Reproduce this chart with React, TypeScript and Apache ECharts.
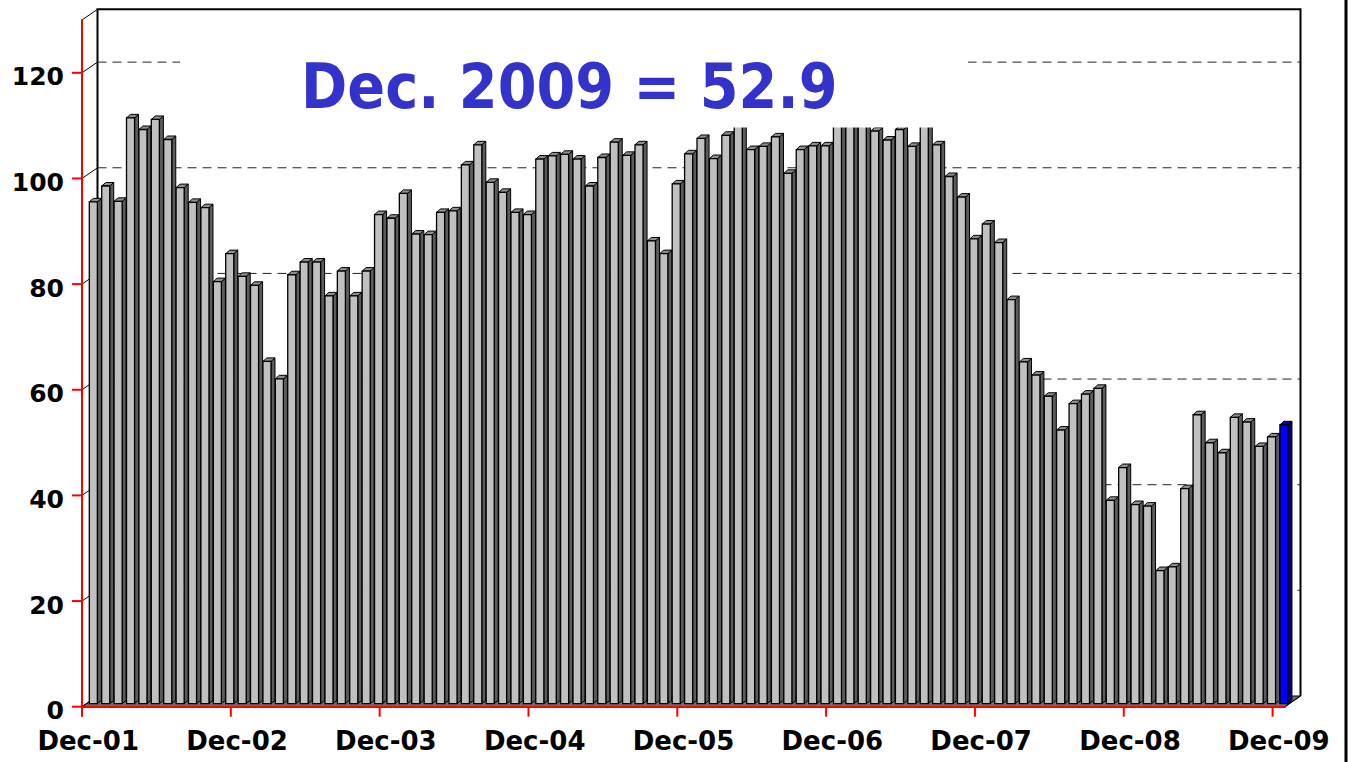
import { useEffect, useRef } from "react";
import * as echarts from "echarts";

// ---------- data ----------
const MONTH_NAMES = ["Jan", "Feb", "Mar", "Apr", "May", "Jun", "Jul", "Aug", "Sep", "Oct", "Nov", "Dec"];
const YEAR_LABELS = ["01", "02", "03", "04", "05", "06", "07", "08", "09", "10"];

const VALUES = [
  95.1, 98.1, 95.2, 111.0, 108.8, 110.7, 106.9, 97.8, 95.0, 94.0, 80.0, 85.3,
  81.0, 79.3, 64.9, 61.6, 81.3, 83.7, 83.7, 77.3, 82.0, 77.3, 82.0, 92.7,
  92.0, 96.7, 89.0, 88.9, 93.1, 93.4, 102.1, 105.9, 98.8, 96.9, 93.1, 92.7,
  103.2, 103.8, 104.1, 103.2, 98.1, 103.5, 106.4, 103.9, 105.9, 87.7, 85.3, 98.5,
  104.2, 107.1, 103.3, 107.7, 111.0, 105.0, 105.6, 107.4, 100.5, 105.0, 105.7, 105.7,
  112.0, 113.0, 112.0, 108.5, 106.8, 108.8, 105.6, 111.0, 105.9, 99.9, 96.0, 88.1,
  90.9, 87.4, 76.6, 64.8, 62.3, 58.3, 51.9, 56.9, 58.7, 59.8, 38.6, 44.8,
  37.8, 37.5, 25.3, 26.0, 40.8, 54.8, 49.5, 47.6, 54.3, 53.4, 48.8, 50.6,
  52.9,
];

// Dec-01 .. Dec-09 monthly categories
const CATEGORIES = VALUES.map((_, i) => {
  const m = (11 + i) % 12;
  const y = Math.floor((11 + i) / 12);
  return `${MONTH_NAMES[m]}-${YEAR_LABELS[y]}`;
});

const Y_TICKS = [0, 20, 40, 60, 80, 100, 120];
const TITLE_TEXT = "Dec. 2009 = 52.9";

// ---------- layout ----------
const GRID_LEFT = 82;
const GRID_TOP = 20;
const GRID_W = 1203;
const GRID_H = 686.7;
const Y_MAX = 130;
const DEPTH_X = 15.5;
const DEPTH_Y = 10.7;
const FONT = "DejaVu Sans";
const RED = "#ff0000";

export default function App() {
  const ref = useRef<HTMLDivElement>(null);

  useEffect(() => {
    if (!ref.current) return;
    const chart = echarts.init(ref.current, null, { renderer: "svg" });
    const last = VALUES.length - 1;

    const baseOption: any = {
      animation: false,
      backgroundColor: "#fff",
      textStyle: { fontFamily: FONT },
      grid: { left: GRID_LEFT, top: GRID_TOP, width: GRID_W, height: GRID_H, containLabel: false },
      xAxis: {
        type: "category",
        data: CATEGORIES,
        boundaryGap: true,
        z: 10,
        axisLine: { show: true, lineStyle: { color: RED, width: 2 } },
        axisTick: { show: false },
        axisLabel: {
          interval: (i: number) => i % 12 === 0,
          color: "#000",
          fontFamily: FONT,
          fontWeight: "bold",
          fontSize: 26,
          margin: 21,
        },
        splitLine: { show: false },
      },
      yAxis: {
        type: "value",
        min: 0,
        max: Y_MAX,
        interval: 20,
        z: 10,
        axisLine: { show: true, lineStyle: { color: RED, width: 2 } },
        axisTick: { show: false },
        axisLabel: { show: false },
        splitLine: { show: false },
      },
      series: [
        {
          type: "custom",
          z: 5,
          data: VALUES.map((v, i) => [i, v]),
          encode: { x: 0, y: 1 },
          renderItem: (params: any, api: any) => {
            const i = api.value(0);
            const v = api.value(1);
            const base = api.coord([i, 0]);
            const topP = api.coord([i, v]);
            const bw = api.size([1, 0])[0];
            const x0 = base[0] - bw / 2 + 7.3;
            const w = bw * 0.65;
            const yb = base[1] - 3;
            const yt = topP[1] - 2.5;
            const dx = 4;
            const dy = 3.5;
            const isLast = params.dataIndex === last;
            const front = isLast ? "#0000ff" : "#c0c0c0";
            const side = isLast ? "#000080" : "#5c5c5c";
            const top = isLast ? "#0000b0" : "#8e8e8e";
            return {
              type: "group",
              children: [
                {
                  type: "polygon",
                  shape: { points: [[x0 + w, yb], [x0 + w + dx, yb - dy], [x0 + w + dx, yt - dy], [x0 + w, yt]] },
                  style: { fill: side, stroke: "#000", lineWidth: 1 },
                },
                {
                  type: "polygon",
                  shape: { points: [[x0, yt], [x0 + dx, yt - dy], [x0 + w + dx, yt - dy], [x0 + w, yt]] },
                  style: { fill: top, stroke: "#000", lineWidth: 1 },
                },
                {
                  type: "rect",
                  shape: { x: x0, y: yt, width: w, height: yb - yt },
                  style: { fill: front, stroke: "#000", lineWidth: 1.3 },
                },
              ],
            };
          },
        },
      ],
    };
    chart.setOption(baseOption);

    // positions from the library's own scales
    const yPix = (v: number) => chart.convertToPixel({ yAxisIndex: 0 }, v) as number;
    const bandW = GRID_W / VALUES.length;
    const xStart = (i: number) => (chart.convertToPixel({ xAxisIndex: 0 }, i) as number) - bandW / 2;

    const frontB = yPix(0);
    const frontT = yPix(Y_MAX);
    const frontL = xStart(0);
    const frontR = xStart(last) + bandW;
    const wallL = frontL + DEPTH_X;
    const wallR = frontR + DEPTH_X;
    const wallT = frontT - DEPTH_Y;
    const wallB = frontB - DEPTH_Y;

    const graphics: any[] = [];
    // floor
    graphics.push({
      type: "polygon",
      z: 1,
      shape: { points: [[frontL, frontB], [frontR, frontB], [wallR, wallB], [wallL, wallB]] },
      style: { fill: "#6e6e6e", stroke: "#000", lineWidth: 1 },
    });
    // back wall frame
    graphics.push({
      type: "polyline",
      z: 1,
      shape: { points: [[wallL, wallB], [wallL, wallT], [wallR, wallT], [wallR, wallB]] },
      style: { fill: null, stroke: "#000", lineWidth: 2 },
    });
    // gridlines on back wall
    Y_TICKS.filter((v) => v > 0).forEach((v) => {
      const y = yPix(v) - DEPTH_Y;
      graphics.push({
        type: "line",
        z: 1,
        shape: { x1: wallL, y1: y, x2: wallR, y2: y },
        style: { stroke: "#222", lineWidth: 1, lineDash: [9, 6] },
      });
    });
    // side diagonals from axis to back wall
    [...Y_TICKS, Y_MAX].forEach((v) => {
      const y = yPix(v);
      graphics.push({
        type: "line",
        z: 1,
        shape: { x1: frontL, y1: y, x2: wallL, y2: y - DEPTH_Y },
        style: { stroke: "#000", lineWidth: 1 },
      });
    });
    graphics.push({
      type: "line",
      z: 1,
      shape: { x1: frontR, y1: frontB, x2: wallR, y2: wallB },
      style: { stroke: "#000", lineWidth: 1 },
    });
    // y ticks + labels
    Y_TICKS.forEach((v) => {
      const y = yPix(v);
      graphics.push({
        type: "line",
        z: 12,
        shape: { x1: frontL - 10, y1: y, x2: frontL, y2: y },
        style: { stroke: RED, lineWidth: 2 },
      });
      graphics.push({
        type: "text",
        z: 12,
        style: {
          text: String(v),
          x: frontL - 18,
          y: y + 4,
          fill: "#000",
          font: `bold 25px "${FONT}"`,
          textAlign: "right",
          textVerticalAlign: "middle",
        },
      });
    });
    // x ticks (each December)
    CATEGORIES.forEach((c, i) => {
      if (i % 12 !== 0) return;
      const x = xStart(i);
      graphics.push({
        type: "line",
        z: 12,
        shape: { x1: x, y1: frontB, x2: x, y2: frontB + 10 },
        style: { stroke: RED, lineWidth: 2 },
      });
    });
    // right page border
    graphics.push({
      type: "line",
      z: 1,
      shape: { x1: 1346, y1: 0, x2: 1346, y2: 762 },
      style: { stroke: "#000", lineWidth: 3 },
    });
    // title box + text
    graphics.push({
      type: "rect",
      z: 50,
      shape: { x: 180, y: 40, width: 788, height: 87.5 },
      style: { fill: "#fff" },
    });
    graphics.push({
      type: "text",
      z: 51,
      x: 301,
      y: 86,
      scaleX: 0.886,
      style: {
        text: TITLE_TEXT,
        x: 0,
        y: 0,
        fill: "#3333cc",
        font: `bold 63px "${FONT}"`,
        textAlign: "left",
        textVerticalAlign: "middle",
      },
    });

    chart.setOption({ graphic: graphics });

    return () => chart.dispose();
  }, []);

  return (
    <div
      ref={ref}
      style={{ position: "fixed", left: 0, top: 0, width: 1353, height: 762, background: "#fff" }}
    />
  );
}
